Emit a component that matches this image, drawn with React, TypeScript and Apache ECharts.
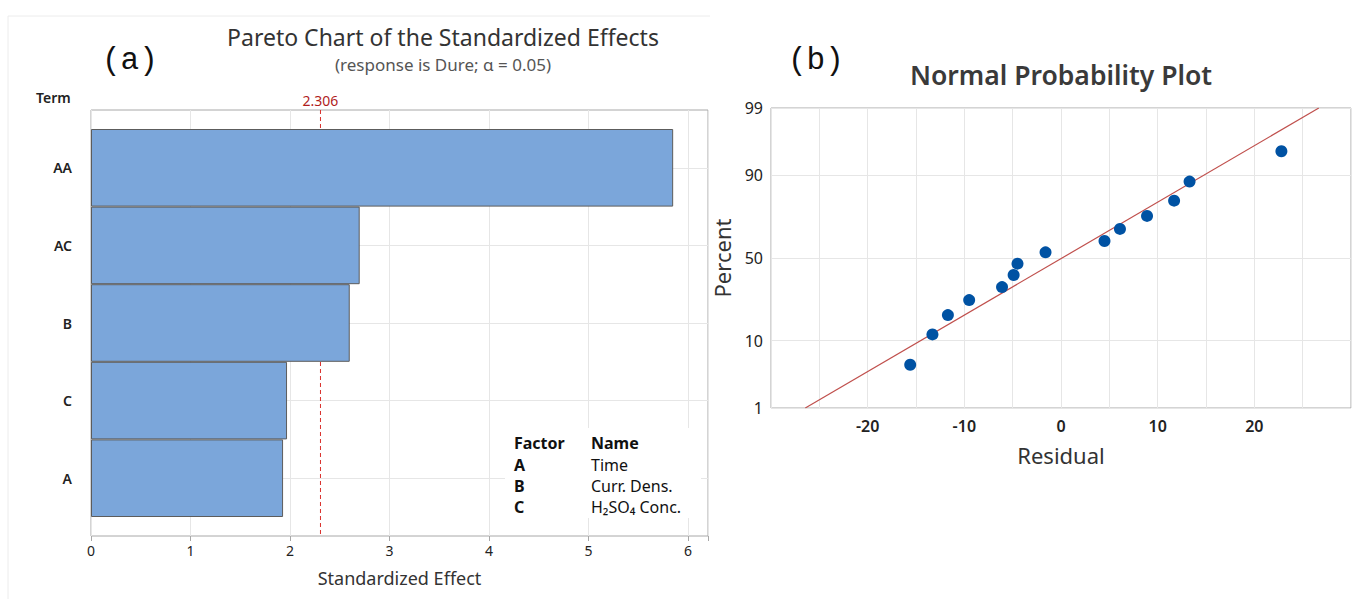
import React, { useEffect, useRef } from "react";
import * as echarts from "echarts";

// ---------- data: (a) Pareto chart ----------
const terms = ["AA", "AC", "B", "C", "A"];
const effects = [5.85, 2.7, 2.6, 1.97, 1.93];
const criticalValue = 2.306;
const factorLetters = ["A", "B", "C"];
const factorNames = ["Time", "Curr. Dens.", "H₂SO₄ Conc."];

// ---------- data: (b) normal probability plot ----------
const residuals = [-15.6, -13.3, -11.7, -9.5, -6.1, -4.9, -4.5, -1.6, 4.5, 6.1, 8.9, 11.7, 13.3, 22.8];
const percents = [4.9, 11.8, 18.8, 25.7, 32.6, 39.6, 46.5, 53.5, 60.4, 67.4, 74.3, 81.3, 88.2, 95.1];
const fitResiduals = [-26.45, 26.67];
const fitPercents = [1, 99];
const percentTicks = [1, 10, 50, 90, 99];
const residualLabels = [-20, -10, 0, 10, 20];

// inverse standard normal CDF (Acklam) – the probability axis transform
function invNorm(p: number): number {
  const a = [-3.969683028665376e1, 2.209460984245205e2, -2.759285104469687e2, 1.38357751867269e2, -3.066479806614716e1, 2.506628277459239];
  const b = [-5.447609879822406e1, 1.615858368580409e2, -1.556989798598866e2, 6.680131188771972e1, -1.328068155288572e1];
  const c = [-7.784894002430293e-3, -3.223964580411365e-1, -2.400758277161838, -2.549671344528364, 4.374664141464968, 2.938163982698783];
  const d = [7.784695709041462e-3, 3.224671290700398e-1, 2.445134137142996, 3.754408661907416];
  const pl = 0.02425;
  if (p < pl) {
    const q = Math.sqrt(-2 * Math.log(p));
    return (((((c[0] * q + c[1]) * q + c[2]) * q + c[3]) * q + c[4]) * q + c[5]) / ((((d[0] * q + d[1]) * q + d[2]) * q + d[3]) * q + 1);
  }
  if (p <= 1 - pl) {
    const q = p - 0.5;
    const r = q * q;
    return ((((((a[0] * r + a[1]) * r + a[2]) * r + a[3]) * r + a[4]) * r + a[5]) * q) / (((((b[0] * r + b[1]) * r + b[2]) * r + b[3]) * r + b[4]) * r + 1);
  }
  const q = Math.sqrt(-2 * Math.log(1 - p));
  return -(((((c[0] * q + c[1]) * q + c[2]) * q + c[3]) * q + c[4]) * q + c[5]) / ((((d[0] * q + d[1]) * q + d[2]) * q + d[3]) * q + 1);
}
const zOf = (pct: number) => invNorm(pct / 100);

const FONT = "'Noto Sans', sans-serif";
const RED = "#d9302c";

export default function App() {
  const ref = useRef<HTMLDivElement>(null);
  useEffect(() => {
    if (!ref.current) return;
    const chart = echarts.init(ref.current, undefined, { renderer: "svg" });
    const pctZ = percentTicks.map(zOf);
    const option: any = {
      animation: false,
      backgroundColor: "#ffffff",
      textStyle: { fontFamily: FONT },
      grid: [
        { left: 91, top: 110, width: 617, height: 426, show: true, borderColor: "#a8a8a8", borderWidth: 1, backgroundColor: "transparent" },
        { left: 91, top: 129, width: 617, height: 388 },
        { left: 771, top: 108, width: 581, height: 300, show: true, borderColor: "#a8a8a8", borderWidth: 1, backgroundColor: "transparent" },
      ],
      xAxis: [
        {
          gridIndex: 0, type: "value", min: 0, max: 6.2, interval: 1,
          axisLine: { show: false },
          axisTick: { show: true, length: 5, lineStyle: { color: "#a8a8a8" } },
          axisLabel: { color: "#222", fontSize: 14, margin: 7, formatter: (v: number) => (Number.isInteger(v) ? String(v) : "") },
          splitLine: { show: true, lineStyle: { color: "#e6e6e6" } },
          name: "Standardized Effect", nameLocation: "middle", nameGap: 33,
          nameTextStyle: { color: "#333", fontSize: 18 },
        },
        { gridIndex: 1, type: "value", min: 0, max: 6.2, show: false },
        {
          gridIndex: 2, type: "value", min: -30, max: 30, interval: 5,
          axisLine: { show: false }, axisTick: { show: false },
          axisLabel: { color: "#222", fontSize: 16, fontWeight: 600, margin: 10, formatter: (v: number) => (residualLabels.includes(v) ? String(v) : "") },
          splitLine: { show: true, lineStyle: { color: "#e6e6e6" } },
          name: "Residual", nameLocation: "middle", nameGap: 36,
          nameTextStyle: { color: "#333", fontSize: 22 },
        },
      ],
      yAxis: [
        { gridIndex: 0, type: "value", min: 0, max: 1, show: false },
        {
          gridIndex: 1, type: "category", inverse: true, data: terms,
          axisLine: { show: false }, axisTick: { show: false }, splitLine: { show: false },
          axisLabel: { color: "#222", fontSize: 14, fontWeight: 600, margin: 19 },
        },
        {
          gridIndex: 2, type: "value", min: zOf(1), max: zOf(99),
          axisLine: { show: false },
          axisTick: { show: false, customValues: pctZ },
          axisLabel: {
            color: "#222", fontSize: 16, margin: 8, customValues: pctZ,
            formatter: (v: number) => {
              const i = pctZ.findIndex((z) => Math.abs(z - v) < 1e-6);
              return i >= 0 ? String(percentTicks[i]) : "";
            },
          },
          splitLine: { show: true, lineStyle: { color: "#e6e6e6" } },
          name: "Percent", nameLocation: "middle", nameGap: 38, nameRotate: 90,
          nameTextStyle: { color: "#333", fontSize: 22 },
        },
      ],
      series: [
        {
          type: "line", xAxisIndex: 0, yAxisIndex: 0, z: 1,
          symbol: "circle", symbolSize: 0.01, showSymbol: true,
          itemStyle: { color: RED },
          lineStyle: { color: RED, type: [4, 3], width: 1 },
          data: [
            { value: [criticalValue, 1], label: { show: true, position: "top", distance: 2, formatter: String(criticalValue), color: "#b01c1c", fontSize: 14 } },
            { value: [criticalValue, 0] },
          ],
          silent: true,
        },
        {
          type: "scatter", xAxisIndex: 1, yAxisIndex: 1, data: [], z: 1,
          itemStyle: { color: "#e6e6e6" },
          markLine: {
            silent: true, z: 1, symbol: "none",
            lineStyle: { color: "#e6e6e6", type: "solid", width: 1 },
            label: { show: false },
            data: terms.map((_, i) => ({ yAxis: i })),
          },
        },
        {
          type: "bar", xAxisIndex: 1, yAxisIndex: 1, z: 3,
          barCategoryGap: 0,
          data: effects,
          itemStyle: { color: "#7ba6da", borderColor: "#5c5c5c", borderWidth: 1 },
        },
        {
          type: "line", xAxisIndex: 2, yAxisIndex: 2, z: 3, symbol: "none",
          data: fitResiduals.map((r, i) => [r, zOf(fitPercents[i])]),
          lineStyle: { color: "#c0504d", width: 1.2 },
        },
        {
          type: "scatter", xAxisIndex: 2, yAxisIndex: 2, z: 4, symbolSize: 12,
          data: residuals.map((r, i) => [r, zOf(percents[i])]),
          itemStyle: { color: "#0052a3", opacity: 1 },
        },
      ],
      graphic: [
        { type: "polyline", shape: { points: [[8, 599], [8, 16], [710, 16]] }, style: { stroke: "#ececec", fill: "none", lineWidth: 1 }, z: 0 },
        { type: "text", x: 102, y: 60, style: { text: "(a)", font: "31px 'Liberation Mono', monospace", fill: "#111", verticalAlign: "middle" }, z: 10 },
        { type: "text", x: 788, y: 60, style: { text: "(b)", font: "31px 'Liberation Mono', monospace", fill: "#111", verticalAlign: "middle" }, z: 10 },
        { type: "text", x: 443, y: 36.5, style: { text: "Pareto Chart of the Standardized Effects", font: `23px ${FONT}`, lineHeight: 24, fill: "#333", align: "center", verticalAlign: "middle" }, z: 10 },
        { type: "text", x: 443, y: 64, style: { text: "(response is Dure; α = 0.05)", font: `17px ${FONT}`, lineHeight: 18, fill: "#555", align: "center", verticalAlign: "middle" }, z: 10 },
        { type: "text", x: 36, y: 97, style: { text: "Term", font: `600 14px ${FONT}`, fill: "#222", verticalAlign: "middle" }, z: 10 },
        { type: "text", x: 1061, y: 75, style: { text: "Normal Probability Plot", font: `600 26.5px ${FONT}`, fill: "#3a3a3a", align: "center", verticalAlign: "middle" }, z: 10 },
        { type: "rect", shape: { x: 505, y: 428, width: 196, height: 90 }, style: { fill: "#ffffff" }, z: 10 },
        { type: "text", x: 514, y: 443, style: { text: "Factor", font: `700 16px ${FONT}`, fill: "#111", verticalAlign: "middle" }, z: 11 },
        { type: "text", x: 591, y: 443, style: { text: "Name", font: `700 16px ${FONT}`, fill: "#111", verticalAlign: "middle" }, z: 11 },
        ...factorLetters.map((f, i) => ({ type: "text", x: 514, y: 465 + i * 21, style: { text: f, font: `700 16px ${FONT}`, fill: "#111", verticalAlign: "middle" }, z: 11 })),
        ...factorNames.map((n, i) => ({ type: "text", x: 591, y: 465 + i * 21, style: { text: n, font: `16px ${FONT}`, fill: "#111", verticalAlign: "middle" }, z: 11 })),
      ],
    };
    chart.setOption(option);
    return () => chart.dispose();
  }, []);
  return <div ref={ref} style={{ position: "absolute", left: 0, top: 0, width: 1354, height: 599 }} />;
}
